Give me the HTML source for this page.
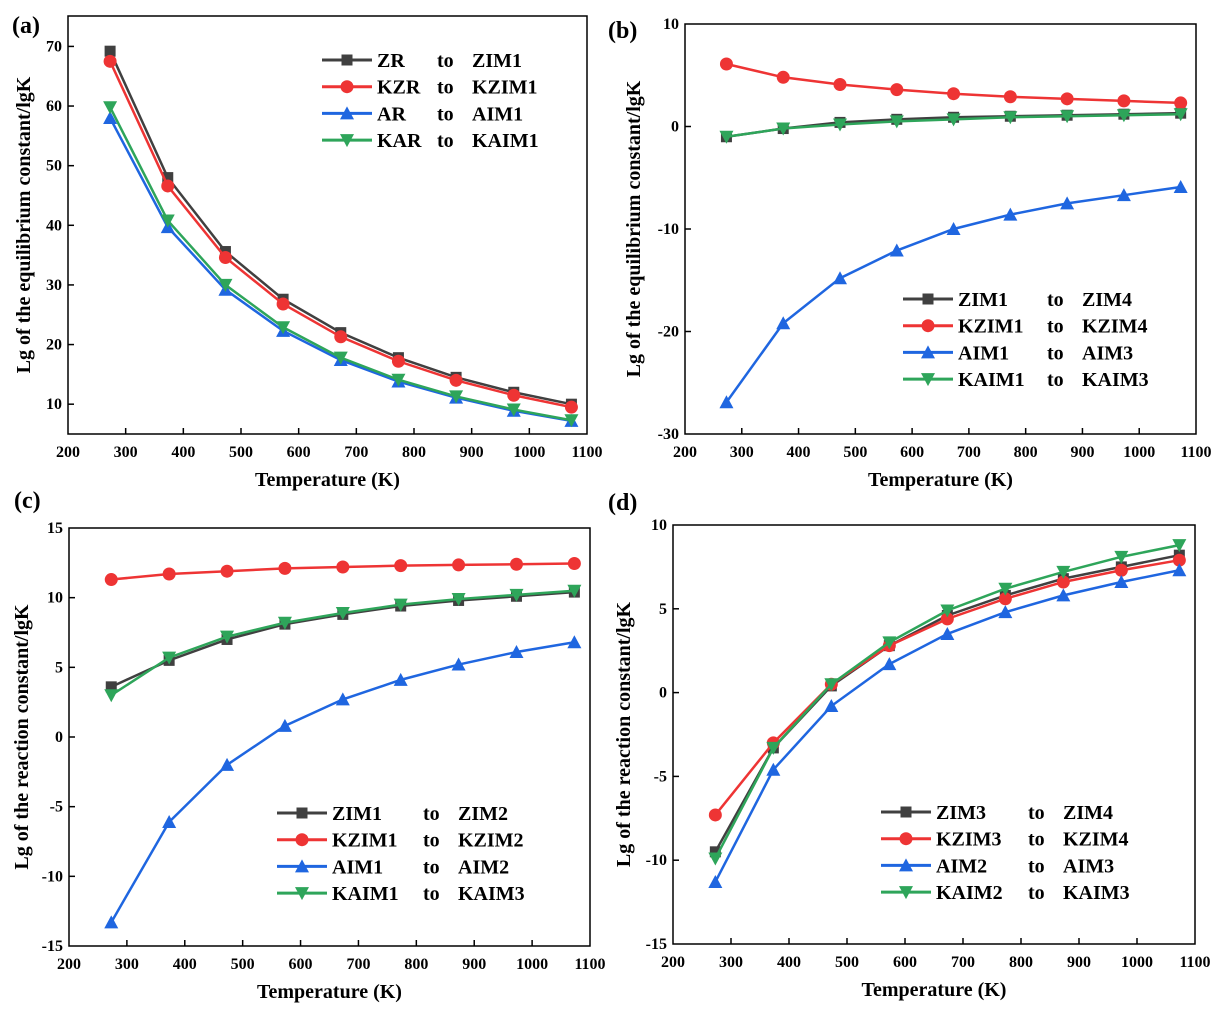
<!DOCTYPE html>
<html><head><meta charset="utf-8"><style>
body{margin:0;background:#fff}
svg{display:block;font-family:"Liberation Serif",serif;font-weight:bold}
</style></head><body>
<svg id="fig" width="1214" height="1012"></svg>
<script>
const temps=[273,373,473,573,673,773,873,973,1073];
const xTicks=[200,300,400,500,600,700,800,900,1000,1100];
const colors=['#404040','#ee3434','#1f66e0','#2ea55a'];
const markers=['square','circle','tri','tridown'];
// panel a
const aZR=[69.2,48,35.6,27.6,22,17.8,14.5,12,10];
const aKZR=[67.5,46.6,34.6,26.8,21.3,17.2,14.0,11.5,9.5];
const aAR=[58,39.7,29.2,22.3,17.4,13.8,11.1,8.9,7.2];
const aKAR=[59.8,40.8,30,22.9,17.8,14.1,11.3,9.1,7.3];
const aYTicks=[10,20,30,40,50,60,70];
// panel b
const bZIM=[-1.0,-0.2,0.4,0.7,0.9,1.0,1.1,1.2,1.3];
const bKZIM=[6.1,4.8,4.1,3.6,3.2,2.9,2.7,2.5,2.3];
const bAIM=[-26.9,-19.2,-14.8,-12.1,-10.0,-8.6,-7.5,-6.7,-5.9];
const bKAIM=[-1.0,-0.2,0.2,0.5,0.7,0.9,1.0,1.1,1.2];
const bYTicks=[-30,-20,-10,0,10];
// panel c
const cZIM=[3.6,5.5,7.0,8.1,8.8,9.4,9.8,10.1,10.4];
const cKZIM=[11.3,11.7,11.9,12.1,12.2,12.3,12.35,12.4,12.45];
const cAIM=[-13.3,-6.1,-2.0,0.8,2.7,4.1,5.2,6.1,6.8];
const cKAIM=[3.0,5.7,7.2,8.2,8.9,9.5,9.9,10.2,10.5];
const cYTicks=[-15,-10,-5,0,5,10,15];
// panel d
const dZIM=[-9.5,-3.3,0.4,2.8,4.6,5.8,6.8,7.5,8.2];
const dKZIM=[-7.3,-3.0,0.5,2.8,4.4,5.6,6.6,7.3,7.9];
const dAIM=[-11.3,-4.6,-0.8,1.7,3.5,4.8,5.8,6.6,7.3];
const dKAIM=[-9.9,-3.3,0.5,3.0,4.9,6.2,7.2,8.1,8.8];
const dYTicks=[-15,-10,-5,0,5,10];

const NS='http://www.w3.org/2000/svg';
const svg=document.getElementById('fig');
function mk(tag,attrs,parent){const e=document.createElementNS(NS,tag);for(const k in attrs)e.setAttribute(k,attrs[k]);(parent||svg).appendChild(e);return e;}
function marker(g,type,x,y,c){
  let e;
  if(type==='square')e=mk('rect',{x:x-5.5,y:y-5.5,width:11,height:11,fill:c},g);
  else if(type==='circle')e=mk('circle',{cx:x,cy:y,r:6.5,fill:c},g);
  else if(type==='tri')e=mk('polygon',{points:`${x},${y-7} ${x-7},${y+6} ${x+7},${y+6}`,fill:c},g);
  else e=mk('polygon',{points:`${x},${y+7} ${x-7},${y-6} ${x+7},${y-6}`,fill:c},g);
  
  
}
function panel(p){
  const g=mk('g',{});
  
  
  const xs=v=>p.L+(v-200)/900*(p.R-p.L);
  const ys=v=>p.B-(v-p.ymin)/(p.ymax-p.ymin)*(p.B-p.T);
  const lab=mk('text',{x:p.labX,y:p.labY,'font-size':24},g);lab.textContent='('+p.id+')';
  
  const fr=mk('rect',{x:p.L,y:p.T,width:p.R-p.L,height:p.B-p.T,fill:'none',stroke:'#000','stroke-width':1.5},g);
  
  xTicks.forEach(t=>{
    const x=xs(t);
    if(t>200&&t<1100){const tk=mk('line',{x1:x,x2:x,y1:p.B,y2:p.B-6,stroke:'#000','stroke-width':1.5},g);
      }
    const tx=mk('text',{x:x,y:p.B+23,'font-size':16,'text-anchor':'middle'},g);tx.textContent=t;
    
  });
  p.yt.forEach(t=>{
    const y=ys(t);
    if(t>p.ymin&&t<p.ymax){const tk=mk('line',{x1:p.L,x2:p.L+6,y1:y,y2:y,stroke:'#000','stroke-width':1.5},g);
      }
    const tx=mk('text',{x:p.L-6,y:y+5,'font-size':16,'text-anchor':'end'},g);tx.textContent=t;
    
  });
  const xt=mk('text',{x:(p.L+p.R)/2,y:p.B+52,'font-size':20,'text-anchor':'middle'},g);xt.textContent='Temperature (K)';
  
  const yc=(p.T+p.B)/2;
  const yt=mk('text',{x:0,y:0,'font-size':20,'text-anchor':'middle',transform:`translate(${p.yTitleX},${yc}) rotate(-90)`},g);
  yt.textContent=p.ytitle;
  
  p.series.forEach((s,i)=>{
    const pts=temps.map((t,j)=>xs(t)+','+ys(s[j])).join(' ');
    const pl=mk('polyline',{points:pts,fill:'none',stroke:colors[i],'stroke-width':2.5},g);
    
    temps.forEach((t,j)=>marker(g,markers[i],xs(t),ys(s[j]),colors[i]));
  });
  p.legend.forEach((l,i)=>{
    const y=p.lgY+i*26.7;
    const lg=mk('g',{},g);
    
    mk('line',{x1:p.lgX,x2:p.lgX+50,y1:y,y2:y,stroke:colors[i],'stroke-width':3},lg);
    marker(lg,markers[i],p.lgX+25,y,colors[i]);
    const t1=mk('text',{x:p.lgX+55,y:y+7,'font-size':20},lg);t1.textContent=l[0];
    const t2=mk('text',{x:p.lgTo,y:y+7,'font-size':20},lg);t2.textContent='to';
    const t3=mk('text',{x:p.lgTo+35,y:y+7,'font-size':20},lg);t3.textContent=l[1];
  });
}
panel({id:'a',L:68,R:587,T:16,B:434,ymin:5,ymax:75.1,yt:aYTicks,series:[aZR,aKZR,aAR,aKAR],
  labX:12,labY:33,yTitleX:30,ytitle:'Lg of  the equilibrium constant/lgK',
  lgX:322,lgY:60,lgTo:437,legend:[['ZR','ZIM1'],['KZR','KZIM1'],['AR','AIM1'],['KAR','KAIM1']]});
panel({id:'b',L:685,R:1196,T:24,B:434,ymin:-30,ymax:10,yt:bYTicks,series:[bZIM,bKZIM,bAIM,bKAIM],
  labX:608,labY:38,yTitleX:640,ytitle:'Lg of  the equilibrium constant/lgK',
  lgX:903,lgY:299,lgTo:1047,legend:[['ZIM1','ZIM4'],['KZIM1','KZIM4'],['AIM1','AIM3'],['KAIM1','KAIM3']]});
panel({id:'c',L:69,R:590,T:528,B:946,ymin:-15,ymax:15,yt:cYTicks,series:[cZIM,cKZIM,cAIM,cKAIM],
  labX:14,labY:508,yTitleX:28,ytitle:'Lg of  the reaction constant/lgK',
  lgX:277,lgY:813,lgTo:423,legend:[['ZIM1','ZIM2'],['KZIM1','KZIM2'],['AIM1','AIM2'],['KAIM1','KAIM3']]});
panel({id:'d',L:673,R:1195,T:525,B:944,ymin:-15,ymax:10,yt:dYTicks,series:[dZIM,dKZIM,dAIM,dKAIM],
  labX:608,labY:510,yTitleX:630,ytitle:'Lg of  the reaction constant/lgK',
  lgX:881,lgY:812,lgTo:1028,legend:[['ZIM3','ZIM4'],['KZIM3','KZIM4'],['AIM2','AIM3'],['KAIM2','KAIM3']]});
</script>
</body></html>
